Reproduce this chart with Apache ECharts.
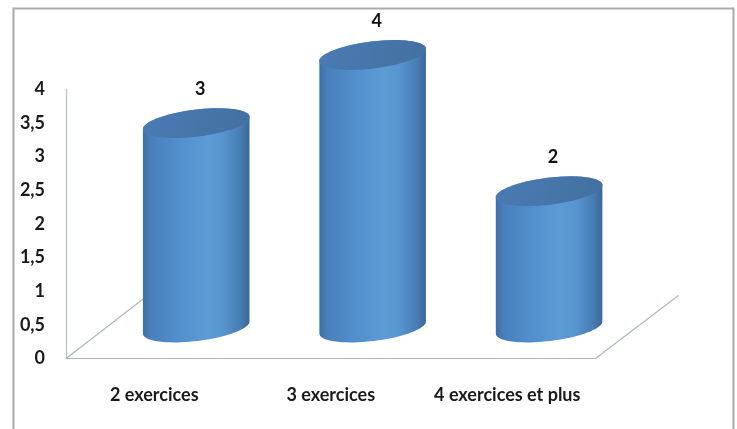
<!DOCTYPE html>
<html>
<head>
<meta charset="utf-8">
<style>
  html, body { margin: 0; padding: 0; background: #ffffff; }
  #chart { width: 737px; height: 429px; }
</style>
<script src="https://cdn.jsdelivr.net/npm/echarts@6/dist/echarts.min.js"></script>
</head>
<body>
<div id="chart"></div>
<script>
// Number of exercises per session
const categories = ['2 exercices', '3 exercices', '4 exercices et plus'];
const values = [3, 4, 2];
const yTicks = [0, 0.5, 1, 1.5, 2, 2.5, 3, 3.5, 4];

const FONT = 'Lato, "Open Sans", sans-serif';
const TILT = 7 * Math.PI / 180;   // tilt of the cylinder caps
const CAP_RY = 13.5;              // minor radius of the caps
const BAR_RATIO = 0.604;          // cylinder width relative to its band

// points along a tilted ellipse from angle t0 to t1 (n segments)
function ellipsePts(cx, cy, a, b, t0, t1, n) {
  const pts = [];
  for (let i = 0; i <= n; i++) {
    const t = n === 0 ? t0 : t0 + (t1 - t0) * i / n;
    const u = a * Math.cos(t), v = b * Math.sin(t);
    pts.push([cx + u * Math.cos(TILT) + v * Math.sin(TILT),
              cy - u * Math.sin(TILT) + v * Math.cos(TILT)]);
  }
  return pts;
}

const bodyGradient = () => new echarts.graphic.LinearGradient(0, 0, 1, 0, [
  { offset: 0, color: '#3e6ea6' },
  { offset: 0.07, color: '#497fbb' },
  { offset: 0.35, color: '#5290cd' },
  { offset: 0.6, color: '#5c9bd6' },
  { offset: 0.75, color: '#5895cf' },
  { offset: 0.92, color: '#477bb3' },
  { offset: 1, color: '#3a6797' }
]);

function renderCylinder(params, api) {
  const idx = api.value(0);
  const val = api.value(1);
  const top = api.coord([idx, val]);
  const base = api.coord([idx, 0]);
  const halfW = api.size([1, 0])[0] * BAR_RATIO / 2;
  const a = halfW / Math.cos(TILT);
  const cx = top[0];

  const topLeft = ellipsePts(cx, top[1], a, CAP_RY, Math.PI, Math.PI, 0)[0];
  const bottomArc = ellipsePts(cx, base[1], a, CAP_RY, Math.PI, 0, 40);
  const topArc = ellipsePts(cx, top[1], a, CAP_RY, 0, -Math.PI, 40);
  const body = [topLeft].concat(bottomArc, topArc);
  const cap = ellipsePts(cx, top[1], a, CAP_RY, 0, 2 * Math.PI, 72);

  return {
    type: 'group',
    children: [
      { type: 'polygon', shape: { points: body }, style: { fill: bodyGradient() } },
      {
        type: 'polygon', shape: { points: cap },
        style: {
          fill: new echarts.graphic.LinearGradient(0, 0, 1, 1, [
            { offset: 0, color: '#4a7bb4' },
            { offset: 1, color: '#42709f' }
          ])
        }
      },
      {
        type: 'text',
        style: {
          text: String(val),
          x: cx + 4, y: top[1] - 34,
          align: 'center', verticalAlign: 'middle',
          fontFamily: FONT, fontSize: 18, fontWeight: 'bold', fill: '#111111'
        }
      }
    ]
  };
}

// floor outline: front edge is the category axis, sides recede to the back
function renderFloor(params, api) {
  const r = params.coordSys;
  const x0 = r.x, x1 = r.x + r.width, y = r.y + r.height;
  const depth = [83, -64];
  const st = { stroke: '#aab7bd', lineWidth: 1.2 };
  return {
    type: 'group',
    children: [
      { type: 'line', shape: { x1: x0, y1: y, x2: x0 + depth[0], y2: y + depth[1] }, style: st },
      { type: 'line', shape: { x1: x1, y1: y, x2: x1 + depth[0], y2: y + depth[1] + 1 }, style: st }
    ]
  };
}

const chart = echarts.init(document.getElementById('chart'), null, { renderer: 'canvas' });
chart.setOption({
  backgroundColor: '#ffffff',
  animation: false,
  graphic: [{
    type: 'rect', left: 11, top: 6, z: 0,
    shape: { x: 0, y: 0, width: 720, height: 500 },
    style: { fill: 'none', stroke: '#a9a9a9', lineWidth: 2 }
  }],
  grid: [
    { left: 66, top: 89, right: 141.5, bottom: 70.5 },
    { left: 108, top: 55, right: 99.7, bottom: 101.5 }
  ],
  xAxis: [
    {
      type: 'category', gridIndex: 0, data: categories,
      axisLine: { show: true, lineStyle: { color: '#aab7bd', width: 1.2 } },
      axisTick: { show: false },
      axisLabel: {
        interval: 0, hideOverlap: false, margin: 28,
        fontFamily: FONT, fontSize: 18, fontWeight: 'bold', color: '#1a1a1a'
      },
      splitLine: { show: false }
    },
    {
      type: 'category', gridIndex: 1, data: categories, show: false
    }
  ],
  yAxis: [
    {
      type: 'value', gridIndex: 0, min: 0, max: 4, interval: 0.5,
      axisLine: { show: true, lineStyle: { color: '#b7c0c4', width: 1.2 } },
      axisTick: { show: false },
      splitLine: { show: false },
      axisLabel: {
        margin: 21, fontFamily: FONT, fontSize: 18, fontWeight: 'bold', color: '#1a1a1a',
        formatter: v => yTicks.includes(v) ? String(v).replace('.', ',') : ''
      }
    },
    { type: 'value', gridIndex: 1, min: 0, max: 4, show: false }
  ],
  series: [
    {
      type: 'custom', xAxisIndex: 0, yAxisIndex: 0, z: 1,
      renderItem: renderFloor, data: [[0, 0]], silent: true
    },
    {
      type: 'custom', xAxisIndex: 1, yAxisIndex: 1, z: 5,
      renderItem: renderCylinder,
      data: values.map((v, i) => [i, v]),
      encode: { x: 0, y: 1 }
    }
  ]
});
</script>
</body>
</html>
